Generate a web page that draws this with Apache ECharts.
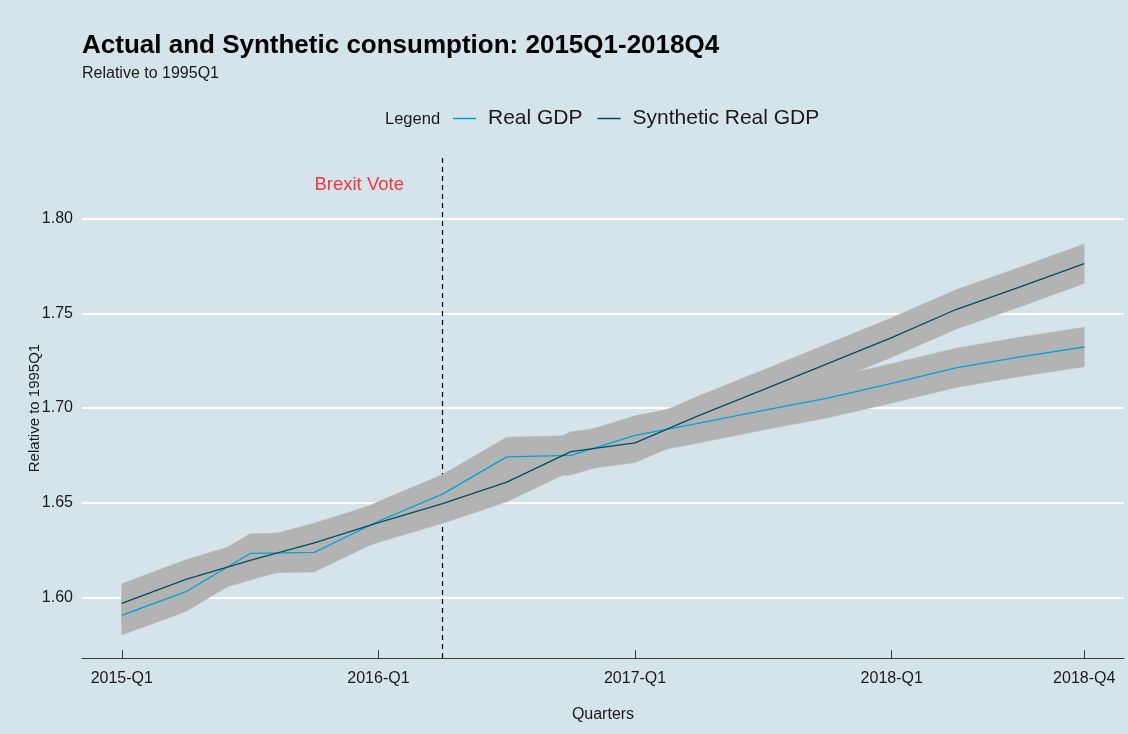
<!DOCTYPE html>
<html>
<head>
<meta charset="utf-8">
<title>Actual and Synthetic consumption</title>
<script src="https://cdn.jsdelivr.net/npm/echarts@6/dist/echarts.min.js"></script>
<style>
  html, body { margin: 0; padding: 0; background: #d5e4eb; }
  #chart { width: 1128px; height: 734px; }
</style>
</head>
<body>
<div id="chart"></div>
<script>
// Quarter labels (x positions are their indices)
const QUARTERS = [
  '2015-Q1', '2015-Q2', '2015-Q3', '2015-Q4',
  '2016-Q1', '2016-Q2', '2016-Q3', '2016-Q4',
  '2017-Q1', '2017-Q2', '2017-Q3', '2017-Q4',
  '2018-Q1', '2018-Q2', '2018-Q3', '2018-Q4'
];

// Real GDP relative to 1995Q1
const REAL_GDP = [
  1.5905, 1.6030, 1.6232, 1.6238, 1.6402, 1.6545, 1.6742, 1.6750,
  1.6855, 1.6920, 1.6988, 1.7052, 1.7130, 1.7212, 1.7270, 1.7322
];

// Synthetic real GDP relative to 1995Q1
const SYNTHETIC_GDP = [
  1.5968, 1.6095, 1.6196, 1.6288, 1.6395, 1.6495, 1.6609, 1.6770,
  1.6816, 1.6961, 1.7097, 1.7234, 1.7372, 1.7520, 1.7639, 1.7762
];

// Half-width of the grey band drawn around each series
const BAND_HALF_WIDTH = 0.0104;

// Referendum quarter (index into QUARTERS) and its annotation
const BREXIT_QUARTER = 5;
const BREXIT_LABEL = 'Brexit Vote';
const BREXIT_LABEL_AT = [3.7, 1.818];

// Axis ticks
const X_TICKS = [0, 4, 8, 12, 15];
const Y_TICKS = [1.60, 1.65, 1.70, 1.75, 1.80];

const FONT = '"Liberation Sans", Arial, sans-serif';
const TEXT = '#1a1a1a';

function bandData(values) {
  return values.map((v, i) => [i, v - BAND_HALF_WIDTH, v + BAND_HALF_WIDTH]);
}

// One filled polygon covering the whole band
function bandRenderer(values) {
  return function (params, api) {
    if (params.dataIndex !== 0) return null;
    const pts = [];
    for (let i = 0; i < values.length; i++) {
      pts.push(api.coord([i, values[i] + BAND_HALF_WIDTH]));
    }
    for (let i = values.length - 1; i >= 0; i--) {
      pts.push(api.coord([i, values[i] - BAND_HALF_WIDTH]));
    }
    return {
      type: 'polygon',
      shape: { points: pts },
      style: { fill: '#b3b3b3', stroke: '#b3b3b3', lineWidth: 0.5 }
    };
  };
}

const chart = echarts.init(document.getElementById('chart'), null, { renderer: 'canvas' });

chart.setOption({
  backgroundColor: '#d5e4eb',
  animation: false,
  textStyle: { fontFamily: FONT },
  title: [
    {
      text: 'Actual and Synthetic consumption: 2015Q1-2018Q4',
      left: 82, top: 33, padding: 0,
      textStyle: { fontFamily: FONT, fontSize: 26, fontWeight: 'bold', color: '#000' }
    },
    {
      text: 'Relative to 1995Q1',
      left: 82, top: 66, padding: 0,
      textStyle: { fontFamily: FONT, fontSize: 16, fontWeight: 'normal', color: TEXT }
    },
    {
      text: 'Legend',
      left: 385, top: 111, padding: 0,
      textStyle: { fontFamily: FONT, fontSize: 16.5, fontWeight: 'normal', color: TEXT }
    }
  ],
  legend: {
    data: ['Real GDP', 'Synthetic Real GDP'],
    left: 453, top: 108, padding: 0,
    icon: 'rect',
    itemWidth: 23, itemHeight: 1.5,
    itemGap: 15,
    textStyle: { fontFamily: FONT, fontSize: 21, color: TEXT, padding: [0, 0, 0, 7] }
  },
  grid: { left: 82, right: 4, top: 158, bottom: 76, containLabel: false },
  xAxis: {
    type: 'value',
    min: -0.62, max: 15.62,
    name: 'Quarters',
    nameLocation: 'middle',
    nameGap: 49,
    nameTextStyle: { fontFamily: FONT, fontSize: 16, color: TEXT },
    axisLine: { show: true, onZero: false, lineStyle: { color: '#3a3a3a', width: 1.2 } },
    axisTick: { show: true, inside: true, length: 8, customValues: X_TICKS,
                lineStyle: { color: '#3a3a3a', width: 1 } },
    axisLabel: { customValues: X_TICKS, margin: 13, fontSize: 16, color: TEXT,
                 formatter: v => QUARTERS[Math.round(v)] },
    splitLine: { show: false }
  },
  yAxis: {
    type: 'value',
    min: 1.568, max: 1.832,
    name: 'Relative to 1995Q1',
    nameLocation: 'middle',
    nameGap: 40,
    nameRotate: 90,
    nameMoveOverlap: false,
    nameTextStyle: { fontFamily: FONT, fontSize: 15, color: TEXT },
    axisLine: { show: false },
    axisTick: { show: false, customValues: Y_TICKS },
    axisLabel: { customValues: Y_TICKS, margin: 9, fontSize: 16, color: TEXT,
                 formatter: v => v.toFixed(2) },
    splitLine: { show: true, lineStyle: { color: '#ffffff', width: 2 } }
  },
  series: [
    {
      // referendum marker and its annotation
      type: 'line',
      data: [],
      z: 1,
      silent: true,
      markLine: {
        z: 1,
        symbol: 'none',
        silent: true,
        label: { show: false },
        lineStyle: { color: '#000', type: [5, 4], width: 1.2 },
        data: [{ xAxis: BREXIT_QUARTER }]
      },
      markPoint: {
        z: 4,
        symbol: 'circle',
        symbolSize: 1,
        silent: true,
        itemStyle: { color: 'rgba(0,0,0,0)' },
        label: { show: true, position: 'inside', formatter: BREXIT_LABEL,
                 fontFamily: FONT, fontSize: 18.5, color: '#f0393c' },
        data: [{ coord: BREXIT_LABEL_AT }]
      }
    },
    {
      name: 'Real GDP band',
      type: 'custom',
      z: 2,
      silent: true,
      renderItem: bandRenderer(REAL_GDP),
      encode: { x: 0, y: [1, 2] },
      data: bandData(REAL_GDP)
    },
    {
      name: 'Synthetic Real GDP band',
      type: 'custom',
      z: 2,
      silent: true,
      renderItem: bandRenderer(SYNTHETIC_GDP),
      encode: { x: 0, y: [1, 2] },
      data: bandData(SYNTHETIC_GDP)
    },
    {
      name: 'Real GDP',
      type: 'line',
      z: 3,
      showSymbol: false,
      color: '#01a2d9',
      lineStyle: { color: '#01a2d9', width: 1.3 },
      data: REAL_GDP.map((v, i) => [i, v])
    },
    {
      name: 'Synthetic Real GDP',
      type: 'line',
      z: 3,
      showSymbol: false,
      color: '#014d64',
      lineStyle: { color: '#014d64', width: 1.3 },
      data: SYNTHETIC_GDP.map((v, i) => [i, v])
    }
  ]
});
</script>
</body>
</html>
